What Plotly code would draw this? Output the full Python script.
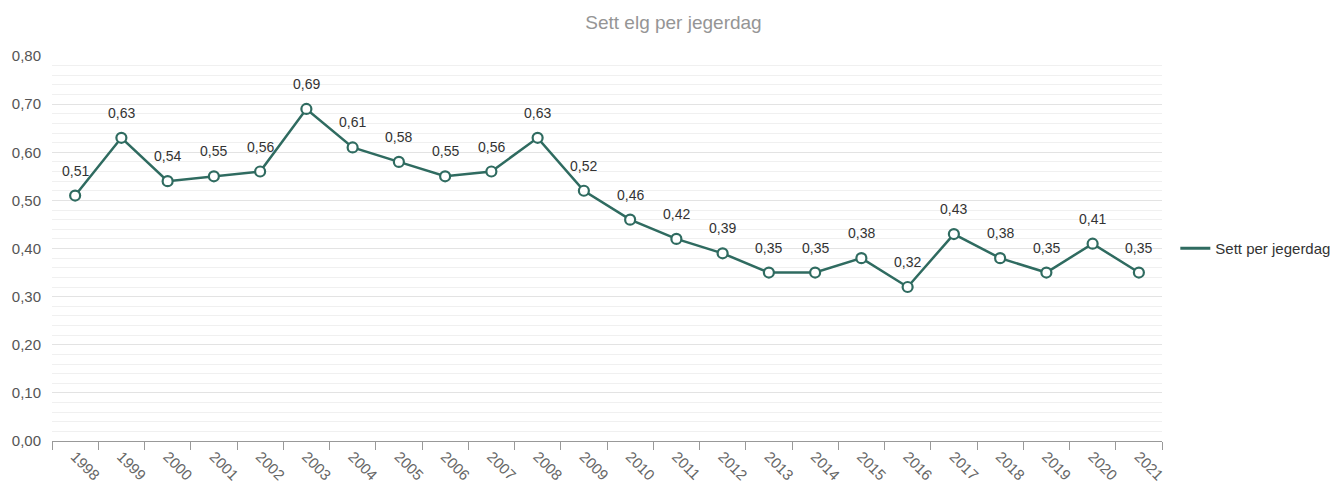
import plotly.graph_objects as go

years = [str(y) for y in range(1998, 2022)]
values = [0.51, 0.63, 0.54, 0.55, 0.56, 0.69, 0.61, 0.58, 0.55, 0.56, 0.63, 0.52,
          0.46, 0.42, 0.39, 0.35, 0.35, 0.38, 0.32, 0.43, 0.38, 0.35, 0.41, 0.35]
series_name = "Sett per jegerdag"
title_text = "Sett elg per jegerdag"

LINE = "#2f6b60"
FONT = "Liberation Sans, Arial, sans-serif"

fig = go.Figure()
fig.add_trace(go.Scatter(
    x=years, y=values, mode="lines+markers", name=series_name, showlegend=False,
    line=dict(color=LINE, width=2.5),
    marker=dict(size=10, color="white", line=dict(color=LINE, width=2.2)),
    hoverinfo="x+y",
))
# legend-only entry (line symbol only)
fig.add_trace(go.Scatter(
    x=[None], y=[None], mode="lines", name=series_name,
    line=dict(color=LINE, width=3),
))

for i, v in enumerate(values):
    fig.add_annotation(x=i, y=v, xref="x", yref="y",
                       text=f"{v:.2f}".replace(".", ","), showarrow=False,
                       yanchor="bottom", yshift=15,
                       font=dict(family=FONT, size=14, color="#333333"))

fig.update_layout(
    width=1339, height=488,
    margin=dict(l=44, r=185, t=48, b=55, autoexpand=False),
    paper_bgcolor="white", plot_bgcolor="white",
    separators=", ",
    title=dict(text=title_text, x=0.497, xanchor="center", y=0.97, yanchor="middle",
               font=dict(family=FONT, size=19, color="#959595")),
    font=dict(family=FONT, size=12, color="#666666"),
    legend=dict(x=1.012, y=0.5, xanchor="left", yanchor="middle",
                font=dict(family=FONT, size=15, color="#333333"),
                bgcolor="rgba(0,0,0,0)"),
    showlegend=True,
)
fig.update_xaxes(
    type="category", tickson="boundaries", ticks="outside", ticklen=8,
    tickcolor="#999999", showline=True, linecolor="#999999", linewidth=1,
    showgrid=False, tickangle=45, tickfont=dict(family=FONT, size=15, color="#666666"),
    range=[-0.5, len(years) - 0.5], automargin=False,
)
fig.update_yaxes(
    range=[0, 0.8], dtick=0.1, tickformat=".2f", showline=False, zeroline=False,
    gridcolor="#e3e3e3", gridwidth=1,
    minor=dict(dtick=0.02, showgrid=True, gridcolor="#f0f0f0", gridwidth=1),
    tickfont=dict(family=FONT, size=15, color="#555555"), ticks="", ticklabelstandoff=10,
    automargin=False,
)

fig.write_html("out.html")
